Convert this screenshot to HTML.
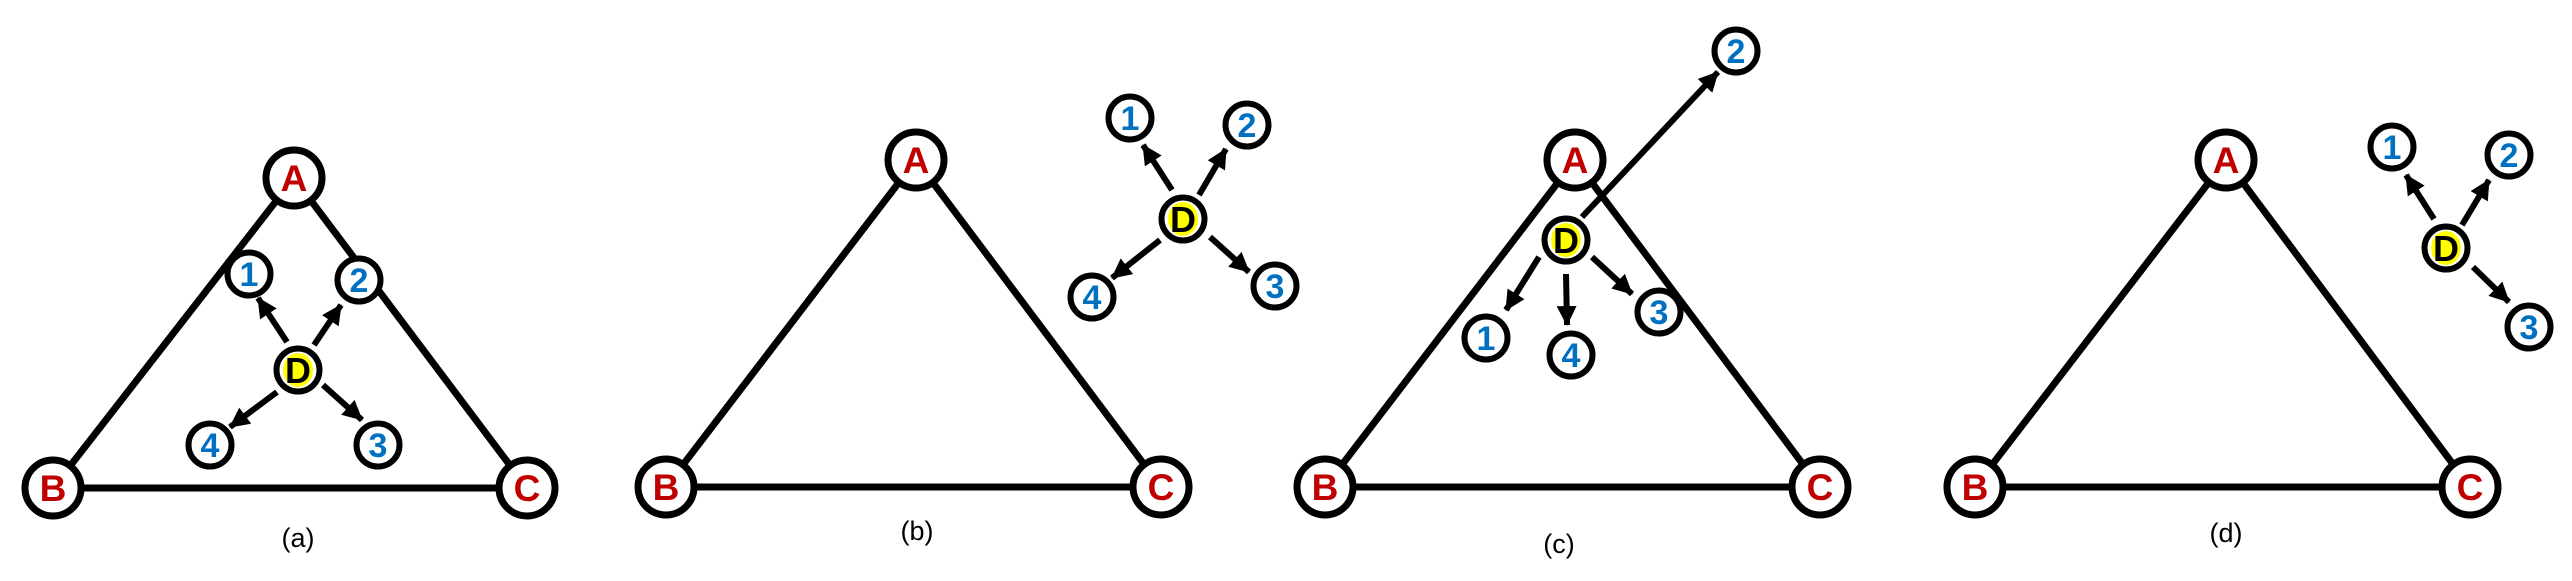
<!DOCTYPE html>
<html><head><meta charset="utf-8"><style>
html,body{margin:0;padding:0;background:#fff;}
svg{display:block;}
text{font-family:"Liberation Sans",Arial,sans-serif;font-weight:bold;text-anchor:middle;}
.big{font-size:37px;fill:#C00000;}
.num{font-size:34px;fill:#0070C0;}
.dd{font-size:36px;fill:#000;}
.lab{font-size:27px;font-weight:normal;fill:#000;}
.tri{stroke:#000;stroke-width:7;fill:none;}
.nb{fill:#fff;stroke:#000;stroke-width:7;}
.ns{fill:#fff;stroke:#000;stroke-width:6;}
.ar{stroke:#000;stroke-width:6;marker-end:url(#ah);}
</style></head><body>
<svg width="2572" height="581" viewBox="0 0 2572 581" xmlns="http://www.w3.org/2000/svg">
<defs>
<marker id="ah" markerUnits="userSpaceOnUse" markerWidth="22" markerHeight="22" refX="19" refY="10" orient="auto">
<path d="M0,0 L20,10 L0,20 Z" fill="#000"/>
</marker>
</defs>

<!-- Panel a -->
<polygon class="tri" points="294,178 53,488 527,488"/>
<circle class="nb" cx="294" cy="178" r="28"/><text class="big" x="294" y="191">A</text>
<circle class="nb" cx="53" cy="488" r="28"/><text class="big" x="53" y="501">B</text>
<circle class="nb" cx="527" cy="488" r="28"/><text class="big" x="527" y="501">C</text>
<line class="ar" x1="287" y1="342" x2="258" y2="298"/>
<line class="ar" x1="314" y1="345" x2="341" y2="305"/>
<line class="ar" x1="277" y1="392" x2="230" y2="427"/>
<line class="ar" x1="323" y1="385" x2="362" y2="420"/>
<circle class="ns" cx="298" cy="370" r="21.5"/><ellipse cx="298" cy="370" rx="15" ry="17" fill="#FFFF00"/><text class="dd" x="298" y="383">D</text>
<circle class="ns" cx="249" cy="274" r="21.5"/><text class="num" x="249" y="286">1</text>
<circle class="ns" cx="359" cy="280" r="21.5"/><text class="num" x="359" y="292">2</text>
<circle class="ns" cx="210" cy="445" r="21.5"/><text class="num" x="210" y="457">4</text>
<circle class="ns" cx="378" cy="445" r="21.5"/><text class="num" x="378" y="457">3</text>
<text class="lab" x="298" y="547">(a)</text>

<!-- Panel b -->
<polygon class="tri" points="916,160 666,487 1161,487"/>
<circle class="nb" cx="916" cy="160" r="28"/><text class="big" x="916" y="173">A</text>
<circle class="nb" cx="666" cy="487" r="28"/><text class="big" x="666" y="500">B</text>
<circle class="nb" cx="1161" cy="487" r="28"/><text class="big" x="1161" y="500">C</text>
<line class="ar" x1="1172" y1="190" x2="1143" y2="145"/>
<line class="ar" x1="1199" y1="195" x2="1226" y2="149"/>
<line class="ar" x1="1160" y1="240" x2="1112" y2="278"/>
<line class="ar" x1="1210" y1="237" x2="1249" y2="272"/>
<circle class="ns" cx="1183" cy="219" r="21.5"/><ellipse cx="1183" cy="219" rx="15" ry="17" fill="#FFFF00"/><text class="dd" x="1183" y="232">D</text>
<circle class="ns" cx="1130" cy="118" r="21.5"/><text class="num" x="1130" y="130">1</text>
<circle class="ns" cx="1247" cy="125" r="21.5"/><text class="num" x="1247" y="137">2</text>
<circle class="ns" cx="1092" cy="297" r="21.5"/><text class="num" x="1092" y="309">4</text>
<circle class="ns" cx="1275" cy="286" r="21.5"/><text class="num" x="1275" y="298">3</text>
<text class="lab" x="917" y="540">(b)</text>

<!-- Panel c -->
<polygon class="tri" points="1575,160 1325,487 1820,487"/>
<circle class="nb" cx="1575" cy="160" r="28"/><text class="big" x="1575" y="173">A</text>
<circle class="nb" cx="1325" cy="487" r="28"/><text class="big" x="1325" y="500">B</text>
<circle class="nb" cx="1820" cy="487" r="28"/><text class="big" x="1820" y="500">C</text>
<line class="ar" x1="1582" y1="217" x2="1718" y2="72"/>
<line class="ar" x1="1539" y1="257" x2="1506" y2="310"/>
<line class="ar" x1="1566" y1="274" x2="1567" y2="325"/>
<line class="ar" x1="1592" y1="257" x2="1632" y2="294"/>
<circle class="ns" cx="1566" cy="240" r="21.5"/><ellipse cx="1566" cy="240" rx="15" ry="17" fill="#FFFF00"/><text class="dd" x="1566" y="253">D</text>
<circle class="ns" cx="1736" cy="51" r="21.5"/><text class="num" x="1736" y="63">2</text>
<circle class="ns" cx="1486" cy="338" r="21.5"/><text class="num" x="1486" y="350">1</text>
<circle class="ns" cx="1571" cy="355" r="21.5"/><text class="num" x="1571" y="367">4</text>
<circle class="ns" cx="1659" cy="312" r="21.5"/><text class="num" x="1659" y="324">3</text>
<text class="lab" x="1559" y="553">(c)</text>

<!-- Panel d -->
<polygon class="tri" points="2226,160 1975,487 2470,487"/>
<circle class="nb" cx="2226" cy="160" r="28"/><text class="big" x="2226" y="173">A</text>
<circle class="nb" cx="1975" cy="487" r="28"/><text class="big" x="1975" y="500">B</text>
<circle class="nb" cx="2470" cy="487" r="28"/><text class="big" x="2470" y="500">C</text>
<line class="ar" x1="2434" y1="219" x2="2406" y2="175"/>
<line class="ar" x1="2462" y1="225" x2="2489" y2="180"/>
<line class="ar" x1="2473" y1="267" x2="2509" y2="302"/>
<circle class="ns" cx="2446" cy="248" r="21.5"/><ellipse cx="2446" cy="248" rx="15" ry="17" fill="#FFFF00"/><text class="dd" x="2446" y="261">D</text>
<circle class="ns" cx="2392" cy="147" r="21.5"/><text class="num" x="2392" y="159">1</text>
<circle class="ns" cx="2509" cy="155" r="21.5"/><text class="num" x="2509" y="167">2</text>
<circle class="ns" cx="2529" cy="327" r="21.5"/><text class="num" x="2529" y="339">3</text>
<text class="lab" x="2226" y="542">(d)</text>
</svg>
</body></html>
